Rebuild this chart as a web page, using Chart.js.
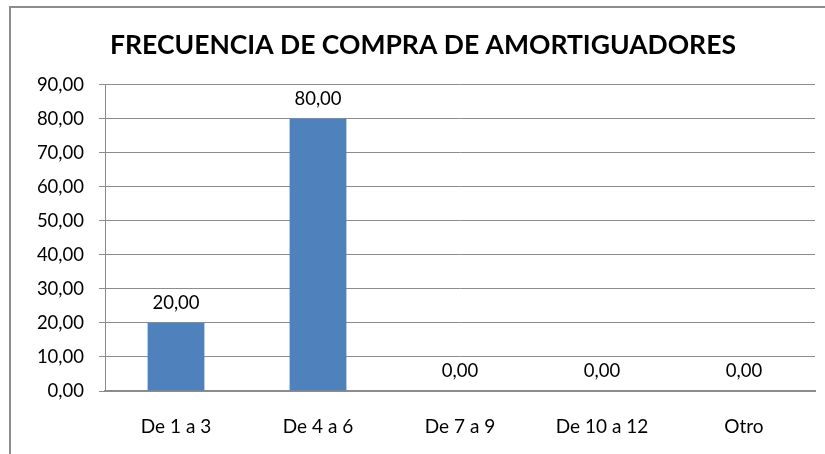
<!DOCTYPE html>
<html><head><meta charset="utf-8">
<script src="https://cdn.jsdelivr.net/npm/chart.js@4"></script>
<style>html,body{margin:0;padding:0;background:#fff}#wrap{width:825px;height:454px;position:relative}</style>
</head><body><div id="wrap"><canvas id="c" width="825" height="454"></canvas></div>
<script>
const categories = ["De 1 a 3", "De 4 a 6", "De 7 a 9", "De 10 a 12", "Otro"];
const values = [20, 80, 0, 0, 0];
const yTicks = [0, 10, 20, 30, 40, 50, 60, 70, 80, 90];
const title = "FRECUENCIA DE COMPRA DE AMORTIGUADORES";

const fmt = v => v.toFixed(2).replace('.', ',');
const FONT = "Lato";

const framePlugin = {
  id: 'frame',
  beforeDraw(chart) {
    const ctx = chart.ctx;
    ctx.save();
    ctx.fillStyle = '#fff';
    ctx.fillRect(0, 0, chart.width, chart.height);
    ctx.strokeStyle = '#8c8c8c';
    ctx.lineWidth = 2;
    ctx.beginPath();
    ctx.moveTo(10, chart.height);
    ctx.lineTo(10, 7);
    ctx.lineTo(chart.width, 7);
    ctx.stroke();
    ctx.restore();
  }
};

const labelPlugin = {
  id: 'vals',
  afterDatasetsDraw(chart) {
    const ctx = chart.ctx;
    const meta = chart.getDatasetMeta(0);
    ctx.save();
    ctx.font = `18.5px ${FONT}`;
    ctx.fillStyle = '#000';
    ctx.textAlign = 'center';
    ctx.textBaseline = 'middle';
    meta.data.forEach((bar, i) => {
      ctx.fillText(fmt(values[i]), bar.x, bar.y - 20);
    });
    ctx.restore();
  }
};

new Chart(document.getElementById('c'), {
  type: 'bar',
  data: {
    labels: categories,
    datasets: [{
      data: values,
      backgroundColor: '#4F81BD',
      borderWidth: 0,
      barPercentage: 0.4,
      categoryPercentage: 1.0
    }]
  },
  options: {
    responsive: false,
    animation: false,
    layout: { padding: { left: 31, right: 10, top: 0, bottom: 0 } },
    plugins: {
      legend: { display: false },
      tooltip: { enabled: false },
      title: {
        display: true,
        text: title,
        color: '#000',
        font: { family: FONT, size: 26.5, weight: 'bold' },
        padding: { top: 30, bottom: 23 }
      }
    },
    scales: {
      x: {
        grid: { display: false, drawTicks: false },
        border: { color: '#8c8c8c', width: 2 },
        ticks: { color: '#000', font: { family: FONT, size: 19 }, padding: 24 },
        afterFit(s) { s.height = 63; }
      },
      y: {
        min: 0, max: 90,
        afterBuildTicks(s) { s.ticks = yTicks.map(v => ({ value: v })); },
        grid: { color: '#8c8c8c', tickLength: 6, tickColor: '#8c8c8c' },
        border: { color: '#8c8c8c', width: 1 },
        ticks: { color: '#000', font: { family: FONT, size: 18.5 }, padding: 15, callback: v => fmt(v) },
        afterFit(s) { s.width = 74; }
      }
    }
  },
  plugins: [framePlugin, labelPlugin]
});
</script></body></html>
